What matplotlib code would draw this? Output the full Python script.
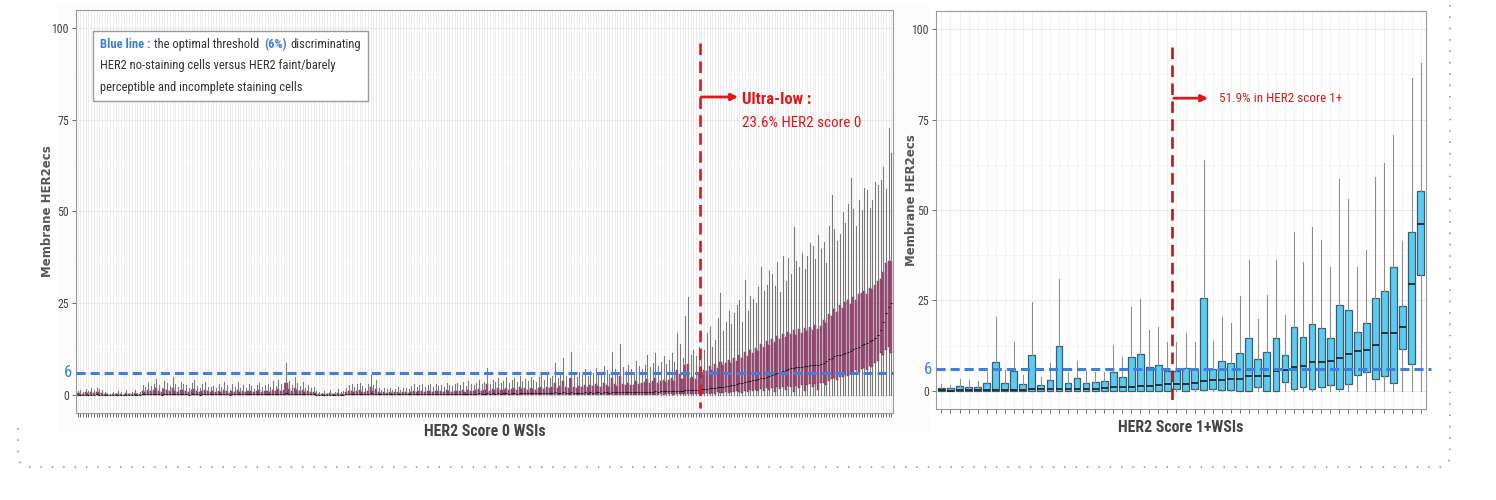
import matplotlib.pyplot as plt
from matplotlib import font_manager
from matplotlib.offsetbox import TextArea, HPacker, VPacker, AnchoredOffsetbox
from matplotlib.path import Path
from matplotlib.patches import PathPatch
from matplotlib.transforms import IdentityTransform

# pick the narrowest sans face that is installed (the original uses Arial Narrow)
fm_list = font_manager.fontManager.ttflist
names = {f.name for f in fm_list}
condensed = {f.name for f in fm_list if f.stretch in ('condensed', 'semi-condensed', 'extra-condensed')}
if 'Liberation Sans Narrow' in names:
    FAM, STRETCH, K = 'Liberation Sans Narrow', 'normal', 1.0
elif 'Roboto Condensed' in names:
    FAM, STRETCH, K = 'Roboto Condensed', 'normal', 0.95
elif condensed & {'Noto Sans', 'Open Sans', 'DejaVu Sans'}:
    FAM = sorted(condensed & {'Noto Sans', 'Open Sans', 'DejaVu Sans'})[-1]
    STRETCH, K = 'condensed', 0.9
else:
    FAM, STRETCH, K = 'Liberation Sans', 'normal', 0.86
plt.rcParams['font.family'] = [FAM, 'DejaVu Sans']
plt.rcParams['font.stretch'] = STRETCH

# ---- HER2 score 0 WSIs (left panel), one box per slide, sorted by median ----
s0_med = [
    0.1, 0.1, 0.1, 0.1, 0.1, 0.1, 0.1, 0.2, 0.1, 0.1, 0.1,
    0.0, 0.0, 0.0, 0.0, 0.0, 0.0, 0.0, 0.0, 0.0, 0.0, 0.0, 0.0, 0.0,
    0.2, 0.2, 0.3, 0.2, 0.2, 0.3, 0.2, 0.1, 0.3, 0.2, 0.2, 0.4, 0.2, 0.2, 0.3, 0.2, 0.2, 0.1, 0.3, 0.3, 0.2, 0.1, 0.2, 0.3, 0.2, 0.2,
    0.2, 0.2, 0.3, 0.2, 0.3, 0.2, 0.1, 0.3, 0.2, 0.3,
    0.2, 0.2, 0.2, 0.3, 0.2, 0.2, 0.3, 0.3, 0.2, 0.2,
    0.3, 0.2, 0.3, 0.2, 0.4, 0.3, 0.3, 0.6, 0.4, 0.3,
    0.4, 0.3, 0.2, 0.3, 0.2, 0.2, 0.2, 0.2, 0.1, 0.1,
    0.0, 0.1, 0.0, 0.1, 0.0, 0.1, 0.1, 0.1, 0.1, 0.2,
    0.2, 0.3, 0.2, 0.3, 0.3, 0.2, 0.2, 0.3, 0.5, 0.3,
    0.4, 0.2, 0.2, 0.2, 0.2, 0.2, 0.2, 0.2, 0.3, 0.2,
    0.2, 0.3, 0.2, 0.3, 0.3, 0.3, 0.3, 0.3, 0.3, 0.3,
    0.3, 0.3, 0.3, 0.3, 0.3, 0.3, 0.4, 0.3, 0.3, 0.4,
    0.4, 0.3, 0.4, 0.3, 0.4, 0.4, 0.3, 0.4, 0.5, 0.4,
    0.4, 0.6, 0.4, 0.5, 0.4, 0.5, 0.4, 0.5, 0.5, 0.4,
    0.5, 0.5, 0.4, 0.5, 0.5, 0.5, 0.5, 0.5, 0.5, 0.5,
    0.5, 0.6, 0.5, 0.6, 0.5, 0.6, 0.7, 0.6, 0.6, 0.7,
    0.6, 0.5, 0.8, 0.6, 0.6, 0.6, 0.6, 0.7, 0.6, 0.7,
    0.6, 0.7, 0.7, 0.6, 0.7, 0.7, 0.6, 0.9, 0.7, 0.7,
    0.9, 0.7, 0.7, 0.8, 0.7, 0.7, 0.8, 0.8,
    0.8, 0.8, 0.9, 0.8, 0.9, 1.0, 0.9, 1.0, 1.0, 1.0,
    1.1, 1.1, 1.1, 1.2, 1.2, 1.2, 1.3, 1.3, 1.3, 1.4, 1.4, 1.5,
    1.6, 1.6, 1.7, 1.8, 1.9, 2.0, 2.1, 2.2, 2.3, 2.4,
    2.5, 2.7, 2.8, 3.0, 3.2, 3.3, 3.5, 3.7, 3.8, 4.0,
    4.1, 4.3, 4.5, 4.7, 4.9, 5.2, 5.5, 5.8, 6.0, 6.3,
    6.6, 6.8, 7.1, 7.3, 7.4, 7.5, 7.6, 7.7, 7.9, 8.0,
    8.1, 8.2, 8.3, 8.3, 8.4, 8.8, 9.3, 9.8, 10.2, 10.5,
    10.8, 11.0, 11.3, 11.5, 11.8, 12.1, 12.5, 12.9, 13.2, 13.6,
    13.9, 14.3, 14.7, 15.1, 15.5, 16.4, 17.7, 19.8, 22.3, 24.0, 25.0,
]
s0_q3 = [
    0.5, 0.6, 0.4, 0.7, 0.5, 0.8, 0.6, 0.9, 0.7, 0.6, 0.4,
    0.2, 0.1, 0.3, 0.2, 0.4, 0.3, 0.1, 0.5, 0.2, 0.3, 0.6, 0.2, 0.3,
    1.2, 0.9, 1.5, 1.0, 1.3, 1.8, 1.1, 0.8, 1.6, 1.4, 1.0, 2.0, 1.2, 0.9, 1.5, 1.3, 1.1, 0.7, 1.4, 1.7, 1.0, 0.8, 1.2, 1.5, 1.0, 0.9,
    1.0, 0.8, 1.2, 0.9, 1.5, 1.1, 0.6, 1.2, 0.9, 1.4,
    0.7, 1.0, 0.8, 1.2, 1.0, 0.7, 1.1, 1.3, 0.8, 1.0,
    1.2, 0.9, 1.5, 1.0, 1.7, 1.2, 1.4, 3.4, 1.6, 1.1,
    2.0, 1.3, 1.0, 1.4, 0.8, 1.1, 0.8, 0.9, 0.5, 0.3,
    0.2, 0.4, 0.2, 0.6, 0.2, 0.4, 0.6, 0.3, 0.4, 0.8,
    1.0, 1.2, 0.9, 1.1, 1.3, 0.9, 0.8, 1.2, 2.2, 1.1,
    1.6, 0.7, 0.6, 0.8, 0.6, 0.7, 0.5, 0.7, 0.8, 0.6,
    0.7, 0.8, 0.6, 0.9, 1.1, 0.9, 1.0, 1.2, 0.9, 1.0,
    1.1, 0.8, 1.2, 1.0, 1.1, 0.9, 1.3, 1.0, 0.9, 1.2,
    1.2, 1.0, 1.4, 0.9, 1.5, 1.1, 1.0, 1.3, 1.6, 1.2,
    1.4, 2.9, 1.2, 1.7, 1.4, 1.8, 1.3, 1.5, 2.0, 1.4,
    1.6, 1.9, 1.4, 2.1, 1.6, 1.8, 1.5, 2.0, 1.7, 1.5,
    1.9, 2.2, 1.7, 2.3, 1.8, 2.1, 3.4, 1.9, 2.4, 3.9,
    2.1, 1.9, 4.5, 2.3, 2.0, 2.5, 2.2, 2.8, 2.1, 2.6,
    2.4, 2.9, 2.5, 2.2, 3.2, 2.7, 2.3, 4.6, 2.9, 2.5,
    5.3, 3.0, 2.7, 3.3, 2.8, 2.6, 3.7, 3.1,
    3.2, 3.5, 4.3, 3.3, 3.7, 4.6, 3.4, 3.9, 4.2, 3.6,
    4.0, 4.6, 3.9, 6.8, 5.7, 4.3, 8.2, 8.5, 4.6, 5.0, 4.4, 5.5,
    6.0, 6.9, 6.5, 7.8, 6.9, 8.4, 7.4, 9.0, 8.2, 8.8,
    9.5, 8.6, 10.2, 9.4, 10.8, 10.0, 11.6, 10.7, 12.3, 11.5,
    12.9, 12.0, 13.8, 13.2, 14.6, 13.6, 15.3, 14.4, 16.1, 15.2,
    16.6, 15.8, 17.2, 16.5, 17.8, 16.4, 17.9, 17.0, 18.3, 17.4,
    18.5, 17.6, 19.0, 18.1, 18.9, 20.5, 19.6, 22.0, 21.4, 23.4,
    22.6, 24.4, 23.8, 25.3, 25.9, 24.8, 26.8, 26.0, 27.4, 27.9,
    28.3, 27.6, 29.2, 28.8, 30.0, 31.0, 31.6, 33.5, 36.0, 36.6, 36.4,
]
s0_q1 = [0.0] * 208 + [
    0.1, 0.1, 0.1, 0.1, 0.1, 0.1, 0.1, 0.2, 0.1, 0.2,
    0.2, 0.2, 0.1, 0.2, 0.2, 0.2, 0.2, 0.3, 0.2, 0.2, 0.3, 0.3,
    0.3, 0.4, 0.5, 0.3, 0.6, 0.4, 0.7, 0.5, 0.6, 0.8,
    0.6, 0.9, 0.7, 1.0, 0.9, 0.6, 1.1, 0.8, 1.3, 1.0,
    1.4, 1.1, 1.6, 1.2, 1.8, 1.5, 1.9, 0.9, 2.1, 1.6,
    2.2, 1.4, 2.4, 2.3, 0.8, 2.5, 2.0, 2.6, 1.2, 2.7,
    2.9, 2.2, 3.0, 1.5, 3.2, 3.4, 2.8, 3.9, 4.3, 4.6,
    4.2, 5.0, 4.8, 5.5, 5.2, 6.0, 5.6, 6.8, 6.2, 7.0,
    7.4, 6.9, 8.0, 7.6, 8.6, 9.4, 11.4, 10.8, 12.3, 13.0, 11.4,
]
s0_hi = [
    1.2, 1.5, 0.9, 1.6, 1.1, 1.8, 1.4, 1.9, 1.6, 1.3, 0.9,
    0.5, 0.3, 0.8, 0.5, 1.2, 0.7, 0.3, 1.4, 0.5, 0.8, 1.3, 0.6, 0.8,
    2.8, 2.2, 3.4, 2.5, 3.0, 4.3, 2.6, 2.0, 3.8, 3.2, 2.4, 4.8, 2.9, 2.1, 3.6, 3.1, 2.6, 1.8, 3.3, 4.0, 2.4, 1.9, 2.9, 3.6, 2.3, 2.1,
    2.4, 1.9, 3.0, 2.2, 3.6, 2.7, 1.5, 2.9, 2.3, 3.5,
    1.8, 2.6, 2.0, 3.1, 2.4, 1.7, 2.8, 3.3, 2.1, 2.6,
    3.0, 2.2, 3.8, 2.5, 4.2, 2.9, 3.4, 8.6, 3.9, 2.8,
    5.0, 3.2, 2.4, 3.6, 2.0, 2.7, 1.9, 2.3, 1.2, 0.8,
    0.5, 1.0, 0.6, 1.4, 0.4, 0.9, 1.6, 0.7, 1.1, 2.0,
    2.6, 3.1, 2.2, 2.9, 3.4, 2.4, 2.0, 3.0, 5.5, 2.7,
    4.1, 1.8, 1.5, 2.0, 1.6, 1.9, 1.4, 1.7, 2.1, 1.5,
    1.8, 2.0, 1.6, 2.4, 2.9, 2.2, 2.7, 3.0, 2.3, 2.6,
    2.9, 2.1, 3.1, 2.5, 2.8, 2.2, 3.2, 2.6, 2.4, 3.0,
    3.2, 2.8, 3.6, 2.5, 3.9, 3.0, 2.7, 3.4, 4.1, 3.1,
    3.5, 7.3, 3.0, 4.2, 3.6, 4.5, 3.2, 3.8, 4.9, 3.4,
    4.0, 4.6, 3.5, 5.2, 3.9, 4.4, 3.7, 5.0, 4.2, 3.6,
    4.8, 5.5, 4.1, 5.8, 4.5, 5.1, 8.6, 4.7, 6.0, 10.0,
    5.2, 4.6, 11.6, 5.8, 4.9, 6.3, 5.5, 7.0, 5.1, 6.6,
    5.9, 7.4, 6.2, 5.4, 8.0, 6.8, 5.7, 11.8, 7.2, 6.1,
    13.8, 7.5, 6.6, 8.3, 7.0, 6.4, 9.4, 7.8,
    7.0, 8.2, 10.9, 7.5, 8.8, 11.4, 7.9, 9.1, 10.5, 8.4,
    9.6, 11.4, 9.0, 16.8, 14.0, 10.2, 21.4, 26.8, 11.0, 12.3, 10.5, 13.2,
    9.5, 12.4, 17.0, 18.6, 13.2, 15.0, 21.0, 27.7, 17.5, 20.0,
    23.0, 19.4, 22.3, 24.6, 25.9, 20.0, 31.4, 22.8, 27.0, 26.2,
    25.0, 29.5, 35.0, 28.4, 30.0, 33.8, 33.0, 29.6, 36.2, 28.0,
    38.0, 31.0, 37.4, 33.0, 45.9, 36.5, 35.0, 38.6, 34.2, 38.0,
    41.5, 40.5, 37.0, 43.5, 39.8, 41.8, 36.0, 46.0, 54.5, 45.2,
    42.0, 44.0, 49.8, 47.0, 52.0, 59.0, 50.6, 46.0, 53.2, 50.5,
    56.5, 55.9, 51.0, 53.0, 58.0, 57.3, 58.6, 62.0, 56.0, 72.7, 65.9,
]
s0_cut = 230.5   # last 71 of 301 slides -> 23.6 %

# ---- HER2 score 1+ WSIs (right panel) ----
s1_med = [0.2, 0.1, 0.2, 0.2, 0.2, 0.2, 0.3, 0.3, 0.3, 0.3,
          0.4, 0.4, 0.4, 0.4, 0.4, 0.5, 0.5, 0.6, 0.7, 1.1,
          1.1, 1.2, 1.3, 1.3, 1.6, 1.8, 1.8, 1.8, 2.1, 2.8,
          2.9, 3.0, 3.3, 3.4, 4.0, 4.1, 4.1, 5.4, 5.9, 6.6,
          6.9, 7.9, 8.1, 8.2, 9.1, 10.2, 10.9, 11.2, 12.7, 16.0,
          16.1, 17.7, 29.5, 46.2]
s1_q1 = [0.0, 0.0, 0.0, 0.0, 0.0, 0.0, 0.0, 0.0, 0.0, 0.0,
         0.0, 0.0, 0.0, 0.0, 0.0, 0.0, 0.0, 0.0, 0.0, 0.0,
         0.0, 0.0, 0.0, 0.0, 0.0, 0.0, 0.5, 0.0, 0.4, 0.2,
         0.6, 0.3, 0.3, 0.1, 0.1, 1.0, 0.1, 0.1, 2.6, 0.5,
         1.2, 0.5, 1.0, 1.5, 0.5, 1.9, 4.4, 5.2, 3.2, 4.2,
         2.1, 11.7, 7.4, 31.9]
s1_q3 = [0.9, 0.7, 1.3, 1.2, 1.1, 2.1, 8.1, 2.3, 5.5, 1.8,
         9.9, 1.6, 3.1, 12.4, 2.1, 3.5, 2.3, 2.4, 2.7, 5.2,
         3.8, 9.5, 10.1, 6.7, 7.2, 5.6, 5.5, 6.2, 6.1, 25.6,
         6.0, 8.3, 7.7, 10.6, 14.5, 8.7, 10.8, 14.5, 9.9, 17.8,
         15.0, 18.4, 17.3, 14.5, 23.7, 22.4, 16.4, 18.7, 25.7, 27.7,
         34.2, 23.6, 44.0, 55.3]
s1_hi = [1.9, 1.6, 3.2, 2.9, 2.8, 5.1, 20.3, 5.8, 13.4, 4.4,
         24.7, 3.8, 7.6, 31.0, 5.3, 8.3, 5.6, 5.3, 5.3, 12.7,
         9.3, 23.3, 25.3, 16.7, 17.8, 13.6, 13.6, 15.9, 13.6, 63.8,
         13.8, 20.3, 18.7, 26.2, 36.2, 19.9, 26.5, 36.2, 21.0, 43.8,
         35.7, 45.2, 41.7, 34.2, 58.5, 53.0, 34.2, 38.9, 59.2, 62.9,
         70.7, 41.3, 86.5, 90.6]
s1_cut = 26.5    # last 28 of 54 slides -> 51.9 %

threshold = 6
yticks = [0, 25, 50, 75, 100]

BLUE = '#3f7fe0'
RED = '#e3161c'
DARKRED = '#b71c1c'
TXT = '#444444'

fig = plt.figure(figsize=(14.96, 5), dpi=100)

# very faint background of the left figure panel
fig.patches.append(plt.Rectangle((58 / 1496, 68 / 500), 872 / 1496, 427 / 500,
                                 transform=fig.transFigure, facecolor='#fcfcfc',
                                 edgecolor='none', zorder=-5))

ax1 = fig.add_axes([76 / 1496, 87 / 500, 817 / 1496, 403 / 500])
ax2 = fig.add_axes([936 / 1496, 91 / 500, 490 / 1496, 398 / 500])


def style_axes(ax, n, gridcol):
    ax.set_facecolor('white')
    ax.set_xlim(0.4, n + 0.6)
    ax.set_xticks(range(1, n + 1))
    ax.set_xticklabels([])
    ax.set_yticks(yticks)
    ax.set_yticks([12.5, 37.5, 62.5, 87.5], minor=True)
    ax.tick_params(axis='both', which='major', length=3, width=0.6, color='#555555',
                   labelsize=9 * K, labelcolor=TXT, pad=2)
    ax.tick_params(axis='y', which='minor', length=0)
    ax.grid(axis='x', which='major', color=gridcol, linewidth=0.5, zorder=0)
    ax.grid(axis='y', which='major', color='#ebebeb', linewidth=0.8, zorder=0)
    ax.grid(axis='y', which='minor', color='#f3f3f3', linewidth=0.5, zorder=0)
    ax.set_axisbelow(True)
    for sp in ax.spines.values():
        sp.set_color('#9a9a9a')
        sp.set_linewidth(0.8)


n0 = len(s0_med)
stats0 = [dict(med=s0_med[i], q1=s0_q1[i], q3=s0_q3[i], whislo=0.0, whishi=s0_hi[i])
          for i in range(n0)]
ax1.bxp(stats0, positions=range(1, n0 + 1), widths=0.75, patch_artist=True,
        showfliers=False, showcaps=False,
        boxprops=dict(facecolor='#ad5486', edgecolor='#4d2a3d', linewidth=0.3),
        whiskerprops=dict(color='#7a7a7a', linewidth=0.8),
        medianprops=dict(color='#1a1a1a', linewidth=0.8))
style_axes(ax1, n0, '#e4e4e4')
ax1.set_ylim(-4.9, 104.9)

n1 = len(s1_med)
stats1 = [dict(med=s1_med[i], q1=s1_q1[i], q3=s1_q3[i], whislo=0.0, whishi=s1_hi[i])
          for i in range(n1)]
ax2.bxp(stats1, positions=range(1, n1 + 1), widths=0.75, patch_artist=True,
        showfliers=False, showcaps=False,
        boxprops=dict(facecolor='#5ccbf2', edgecolor='#3a5f6b', linewidth=0.9),
        whiskerprops=dict(color='#8f8f8f', linewidth=0.8),
        medianprops=dict(color='#1c2a30', linewidth=1.3))
style_axes(ax2, n1, '#ececec')
ax2.set_ylim(-5, 105)

# threshold lines and labels
for ax, xmax in ((ax1, 1.0), (ax2, 1.01)):
    ax.axhline(threshold, xmin=0, xmax=xmax, color=BLUE, linewidth=2.2,
               dashes=(3, 1.6), clip_on=False, zorder=5)
    ax.annotate(str(threshold), xy=(0, threshold), xycoords=('axes fraction', 'data'),
                xytext=(-3, 0), textcoords='offset points', ha='right', va='center',
                color=BLUE, fontsize=12.5 * K)

# cut-off lines
ax1.plot([s0_cut, s0_cut], [96, -3.5], color=RED, linewidth=1.9, dashes=(4.4, 2.4),
         clip_on=False, zorder=6)
ax2.plot([s1_cut, s1_cut], [95, -3], color=DARKRED, linewidth=1.9, dashes=(4.4, 2.4),
         clip_on=False, zorder=6)

ax1.annotate('', xy=(244.5, 81.2), xytext=(s0_cut + 0.4, 81.2),
             arrowprops=dict(arrowstyle='-|>', color=RED, lw=2, mutation_scale=10,
                             shrinkA=0, shrinkB=0))
ax1.text(245.8, 80.6, 'Ultra-low :', color=RED, fontsize=12.5 * K, fontweight='bold',
         ha='left', va='center')
ax1.text(245.8, 74.1, '23.6% HER2 score 0', color=RED, fontsize=11.5 * K,
         ha='left', va='center')

ax2.annotate('', xy=(30.5, 80.9), xytext=(s1_cut + 0.2, 80.9),
             arrowprops=dict(arrowstyle='-|>', color=RED, lw=2, mutation_scale=10,
                             shrinkA=0, shrinkB=0))
ax2.text(31.7, 80.7, '51.9% in HER2 score 1+', color='#d11a1a', fontsize=10 * K,
         ha='left', va='center')

# legend-like note box
fs = 9.5 * K
line1 = HPacker(children=[
    TextArea('Blue line :', textprops=dict(color='#3f7fd0', fontweight='bold', fontsize=fs)),
    TextArea('the optimal threshold', textprops=dict(color='#333333', fontsize=fs)),
    TextArea('(6%)', textprops=dict(color='#3f7fd0', fontweight='bold', fontsize=fs)),
    TextArea('discriminating', textprops=dict(color='#333333', fontsize=fs)),
], align='baseline', pad=0, sep=3)
line2 = TextArea('HER2 no-staining cells versus HER2 faint/barely',
                 textprops=dict(color='#333333', fontsize=fs))
line3 = TextArea('perceptible and incomplete staining cells',
                 textprops=dict(color='#333333', fontsize=fs))
note = VPacker(children=[line1, line2, line3], align='left', pad=0, sep=6)
nbox = AnchoredOffsetbox(loc='upper left', child=note, pad=0.5, borderpad=0,
                         bbox_to_anchor=(0.0208, 0.948), bbox_transform=ax1.transAxes,
                         frameon=True)
nbox.patch.set_edgecolor('#999999')
nbox.patch.set_linewidth(1.0)
nbox.patch.set_boxstyle('square', pad=0)
ax1.add_artist(nbox)

# axis titles
for ax, xl, yx, yy in ((ax1, 'HER2 Score 0 WSIs', -0.027, 0.5),
                       (ax2, 'HER2 Score 1+WSIs', -0.037, 0.525)):
    ax.set_xlabel(xl, fontsize=12 * K, fontweight='bold', color=TXT, labelpad=3)
    ax.set_ylabel('Membrane HER2ecs', fontsize=8.5, fontweight='bold', color='#555555',
                  family='DejaVu Sans', fontstretch='normal')
    ax.yaxis.set_label_coords(yx, yy)

# dotted outer frame (pixel coordinates, origin bottom-left)
H = 500
verts = [(18, H - 428), (18, H - 455), (18, H - 467), (30, H - 467),
         (1438, H - 467), (1450, H - 467), (1450, H - 455), (1450, H + 5)]
codes = [Path.MOVETO, Path.LINETO, Path.CURVE3, Path.CURVE3,
         Path.LINETO, Path.CURVE3, Path.CURVE3, Path.LINETO]
frame = PathPatch(Path(verts, codes), transform=IdentityTransform(), fill=False,
                  edgecolor='#9a9a9a', linewidth=1.3, linestyle=(0, (0.8, 5.5)))
fig.patches.append(frame)

plt.savefig('out.png', dpi=100)
